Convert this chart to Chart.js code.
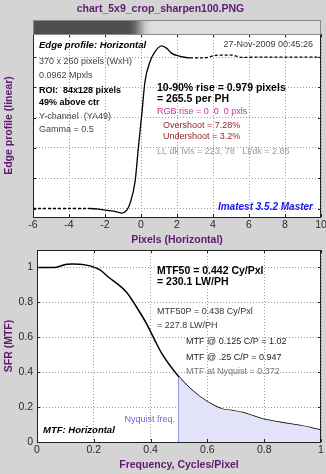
<!DOCTYPE html>
<html>
<head>
<meta charset="utf-8">
<script src="https://cdn.jsdelivr.net/npm/chart.js@4/dist/chart.umd.min.js"></script>
<style>
  body { margin: 0; background: #d4d4d4; }
  #wrap { position: relative; width: 326px; height: 474px; }
  canvas { position: absolute; left: 0; top: 0; }
</style>
</head>
<body>
<div id="wrap">
  <canvas id="edgeChart" width="326" height="474"></canvas>
  <canvas id="mtfChart" width="326" height="474"></canvas>
</div>
<script>
// edge profile: position in pixels vs. normalized level (dark = 0, light = 1)
const edgePixels = [-6, -4.5, -2.83, -2.28, -1.54, -1.07, -0.79, -0.61, -0.33, -0.15, 0.04, 0.22, 0.5, 0.78, 1.15, 1.43, 1.71, 2.17, 2.72, 3.5, 4.3, 5.0, 5.6, 7, 8.5, 10];
const edgeLevel = [0, 0, 0, -0.005, -0.017, -0.03, -0.01, 0.034, 0.177, 0.397, 0.617, 0.837, 0.969, 1.035, 1.073, 1.057, 1.024, 1.005, 0.995, 0.995, 1.013, 1.013, 0.998, 1.0, 1.0, 1.0];
const edgeXTicks = [-6, -4, -2, 0, 2, 4, 6, 8, 10];
const edgeYTicks = [0, 0.2, 0.4, 0.6, 0.8, 1];
const lightLvl = 223;
const darkLvl = 78;

// MTF: frequency in cycles/pixel vs. SFR
const mtfFreq = [0, 0.063, 0.105, 0.125, 0.151, 0.187, 0.222, 0.25, 0.316, 0.351, 0.386, 0.421, 0.442, 0.5, 0.539, 0.574, 0.621, 0.656, 0.691, 0.726, 0.762, 0.797, 0.844, 0.891, 0.938, 0.973, 1.0];
const mtfValue = [1.0, 1.0, 1.019, 1.02, 1.019, 1.009, 0.986, 0.947, 0.857, 0.772, 0.677, 0.563, 0.5, 0.372, 0.306, 0.259, 0.211, 0.187, 0.179, 0.168, 0.149, 0.130, 0.116, 0.103, 0.091, 0.078, 0.068];
const mtfXTicks = [0, 0.2, 0.4, 0.6, 0.8, 1];
const mtfYTicks = [0, 0.2, 0.4, 0.6, 0.8, 1];
const nyquistFreq = 0.5;

const FONT = "'Liberation Sans', Arial, sans-serif";
const PURPLE = '#5e1a6e';

const mtfAt = (f) => mtfValue[mtfFreq.indexOf(f)];

const levelAt = (x) => {
  if (x <= edgePixels[0]) return edgeLevel[0];
  for (let i = 1; i < edgePixels.length; i++) {
    if (x <= edgePixels[i]) {
      const t = (x - edgePixels[i - 1]) / (edgePixels[i] - edgePixels[i - 1]);
      return edgeLevel[i - 1] + t * (edgeLevel[i] - edgeLevel[i - 1]);
    }
  }
  return edgeLevel[edgeLevel.length - 1];
};

// white plot box, inward ticks, frame and free text
const framePlugin = {
  id: 'frame',
  beforeDraw(chart) {
    const { ctx, chartArea: a } = chart;
    ctx.save();
    ctx.fillStyle = '#fff';
    ctx.fillRect(a.left, a.top, a.width, a.height);
    ctx.restore();
  },
  afterDraw(chart, args, opts) {
    const { ctx, chartArea: a, scales } = chart;
    ctx.save();
    ctx.strokeStyle = '#222';
    ctx.lineWidth = 1;
    ctx.beginPath();
    scales.x.ticks.forEach((t) => {
      const px = Math.round(scales.x.getPixelForValue(t.value)) + 0.5;
      ctx.moveTo(px, a.bottom); ctx.lineTo(px, a.bottom - 3);
      ctx.moveTo(px, a.top); ctx.lineTo(px, a.top + 3);
    });
    scales.y.ticks.forEach((t) => {
      const py = Math.round(scales.y.getPixelForValue(t.value)) + 0.5;
      ctx.moveTo(a.left, py); ctx.lineTo(a.left + 3, py);
      ctx.moveTo(a.right, py); ctx.lineTo(a.right - 3, py);
    });
    ctx.stroke();
    ctx.strokeRect(Math.round(a.left) + 0.5, Math.round(a.top) + 0.5, Math.round(a.width) - 1, Math.round(a.height));

    (opts.items || []).forEach((n) => {
      ctx.font = (n.style || '') + ' ' + (n.size || 9) + 'px ' + FONT;
      ctx.fillStyle = n.color || '#000';
      ctx.textAlign = n.align || 'left';
      ctx.textBaseline = 'middle';
      ctx.fillText(n.text, n.x, n.y);
    });
    ctx.restore();
  }
};

// grey strip above the edge plot showing the edge itself
const stripPlugin = {
  id: 'strip',
  afterDraw(chart) {
    const { ctx, chartArea: a, scales: { x } } = chart;
    const h = 14;
    const top = Math.round(a.top) - h;
    ctx.save();
    for (let px = Math.round(a.left); px < Math.round(a.right); px++) {
      const v = Math.max(0, Math.min(1, levelAt(x.getValueForPixel(px + 0.5))));
      const g = Math.round(darkLvl + (lightLvl - darkLvl) * v);
      ctx.fillStyle = `rgb(${g},${g},${g})`;
      ctx.fillRect(px, top, 1, h);
    }
    ctx.strokeStyle = '#888';
    ctx.strokeRect(Math.round(a.left) + 0.5, top + 0.5, Math.round(a.width) - 1, h);
    ctx.restore();
  }
};

const fixedTicks = (values) => (scale) => {
  scale.ticks = values.map((v) => ({ value: v }));
};

const gridOpts = { color: '#9a9a9a', drawTicks: false };
const borderOpts = { display: false, dash: [1, 2] };

const makeX = (min, max, ticks, height, title, titlePad) => ({
  type: 'linear', min, max,
  afterBuildTicks: fixedTicks(ticks),
  afterFit: (s) => { s.height = height; s.paddingLeft = 0; s.paddingRight = 0; },
  grid: gridOpts, border: borderOpts,
  ticks: { color: '#2a2a2a', font: { family: FONT, size: 10.5 }, padding: 2, maxRotation: 0, autoSkip: false,
           callback: (v) => String(v) },
  title: { display: true, text: title, color: PURPLE, font: { family: FONT, size: 10.5, weight: 'bold' },
           padding: { top: 0, bottom: titlePad } }
});

const makeY = (min, max, ticks, width, showLabels, title) => ({
  type: 'linear', min, max,
  afterBuildTicks: fixedTicks(ticks),
  afterFit: (s) => { s.width = width; s.paddingTop = 0; s.paddingBottom = 0; },
  grid: gridOpts, border: borderOpts,
  ticks: { display: showLabels, color: '#2a2a2a', font: { family: FONT, size: 10.5 }, padding: 4,
           callback: (v) => String(v) },
  title: { display: true, text: title, color: PURPLE, font: { family: FONT, size: 10.5, weight: 'bold' },
           padding: { top: 2.5, bottom: 0 } }
});

const edgeNotes = [
  { text: 'Edge profile: Horizontal', x: 39, y: 45, style: 'italic bold', size: 9.5 },
  { text: '27-Nov-2009 00:45:26', x: 313, y: 45, align: 'right', color: '#3a3a3a' },
  { text: '370 x 260 pixels (WxH)', x: 39, y: 62, color: '#444' },
  { text: '0.0962 Mpxls', x: 39, y: 75.5, color: '#444' },
  { text: 'ROI:  84x128 pixels', x: 39, y: 91, style: 'bold' },
  { text: '49% above ctr', x: 39, y: 102.5, style: 'bold' },
  { text: 'Y-channel  (YA49)', x: 39, y: 116.5, color: '#444' },
  { text: 'Gamma = 0.5', x: 39, y: 129.5, color: '#444' },
  { text: '10-90% rise = 0.979 pixels', x: 157, y: 88.5, style: 'bold', size: 10.5 },
  { text: '= 265.5 per PH', x: 157, y: 99.5, style: 'bold', size: 10.5 },
  { text: 'RGB rise = 0  0  0 pxls', x: 157, y: 111.7, color: '#c4359c' },
  { text: 'Overshoot = 7.28%', x: 163, y: 125.5, color: '#8e1f1f' },
  { text: 'Undershoot = 3.2%', x: 163, y: 136.5, color: '#8e1f1f' },
  { text: 'Lt, dk lvls = ' + lightLvl + ', ' + darkLvl + '   Lt/dk = 2.86', x: 157, y: 151.5, color: '#9a9a9a' },
  { text: 'Imatest 3.5.2 Master', x: 313, y: 207.5, align: 'right', style: 'italic bold', size: 10, color: '#1818f0' }
];

const mtfNotes = [
  { text: 'MTF50 = 0.442 Cy/Pxl', x: 157, y: 271.5, style: 'bold', size: 10.5 },
  { text: '= 230.1 LW/PH', x: 157, y: 282.5, style: 'bold', size: 10.5 },
  { text: 'MTF50P = 0.438 Cy/Pxl', x: 157, y: 311.5, color: '#333' },
  { text: '= 227.8 LW/PH', x: 157, y: 325.5, color: '#333' },
  { text: 'MTF @ 0.125 C/P = ' + mtfAt(0.125), x: 186, y: 341.5, color: '#222' },
  { text: 'MTF @ .25 C/P = ' + mtfAt(0.25), x: 186, y: 357.3, color: '#222' },
  { text: 'MTF at Nyquist = ' + mtfAt(nyquistFreq), x: 186, y: 371.5, color: '#777' },
  { text: 'Nyquist freq.', x: 175, y: 420, align: 'right', color: '#6a6ad6' },
  { text: 'MTF: Horizontal', x: 43, y: 430, style: 'italic bold', size: 9.5 }
];

Chart.defaults.font.family = FONT;
Chart.defaults.animation = false;

new Chart(document.getElementById('edgeChart'), {
  type: 'line',
  data: {
    datasets: [{
      data: edgePixels.map((x, i) => ({ x, y: edgeLevel[i] })),
      borderColor: '#000',
      borderWidth: 1.3,
      pointRadius: 0,
      cubicInterpolationMode: 'monotone',
      segment: {
        borderDash: (c) => (Math.abs(c.p0.parsed.x) > 2.6 && Math.abs(c.p1.parsed.x) > 2.6) ? [3, 2] : undefined
      }
    }]
  },
  options: {
    responsive: false,
    devicePixelRatio: 1,
    layout: { padding: { left: 0, right: 5, top: 0, bottom: 226 } },
    plugins: {
      legend: { display: false },
      tooltip: { enabled: false },
      title: {
        display: true, text: 'chart_5x9_crop_sharpen100.PNG', color: PURPLE,
        font: { family: FONT, size: 10.5, weight: 'bold' },
        padding: { top: 3, bottom: 18.4 }
      },
      frame: { items: edgeNotes }
    },
    scales: {
      x: makeX(-6, 10, edgeXTicks, 31, 'Pixels (Horizontal)', 1.7),
      y: makeY(-0.056, 1.152, edgeYTicks, 33, false, 'Edge profile (linear)')
    }
  },
  plugins: [framePlugin, stripPlugin]
});

const nyqIndex = mtfFreq.indexOf(nyquistFreq);

new Chart(document.getElementById('mtfChart'), {
  type: 'line',
  data: {
    datasets: [
      {
        // shaded area above Nyquist
        data: mtfFreq.slice(nyqIndex).map((f, i) => ({ x: f, y: mtfValue[nyqIndex + i] })),
        borderWidth: 0,
        borderColor: 'rgba(0,0,0,0)',
        backgroundColor: '#e2e2f8',
        fill: 'origin',
        pointRadius: 0,
        cubicInterpolationMode: 'monotone'
      },
      {
        data: [{ x: nyquistFreq, y: 0 }, { x: nyquistFreq, y: mtfAt(nyquistFreq) }],
        borderColor: '#8080e4',
        borderWidth: 1.6,
        pointRadius: 0
      },
      {
        data: mtfFreq.map((f, i) => ({ x: f, y: mtfValue[i] })),
        borderColor: '#000',
        borderWidth: 1.5,
        pointRadius: 0,
        cubicInterpolationMode: 'monotone'
      }
    ]
  },
  options: {
    responsive: false,
    devicePixelRatio: 1,
    layout: { padding: { left: 0, right: 5, top: 250, bottom: 0 } },
    plugins: {
      legend: { display: false },
      tooltip: { enabled: false },
      frame: { items: mtfNotes }
    },
    scales: {
      x: makeX(0, 1, mtfXTicks, 32, 'Frequency, Cycles/Pixel', 2.7),
      y: makeY(0, 1.1, mtfYTicks, 37, true, 'SFR (MTF)')
    }
  },
  plugins: [framePlugin]
});
</script>
</body>
</html>
